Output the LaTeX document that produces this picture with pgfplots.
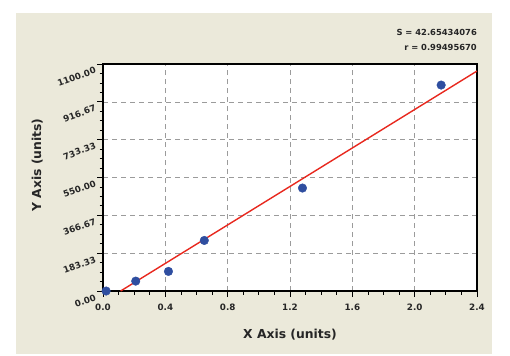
\documentclass[border=0pt]{standalone}
\usepackage{fontspec}
\setmainfont{DejaVu Sans}
\usepackage{pgfplots}
\pgfplotsset{compat=1.18}
\definecolor{beige}{RGB}{235,233,218}
\definecolor{dotblue}{RGB}{47,78,160}
\definecolor{fitred}{RGB}{232,40,30}
\definecolor{gridgray}{RGB}{155,155,155}
\begin{document}
\begin{tikzpicture}[x=1bp,y=1bp]
\fill[white] (0,0) rectangle (510,-355);
\fill[beige] (16,-13) rectangle (492,-354);
\begin{axis}[
  at={(103bp,-291bp)}, anchor=south west,
  scale only axis, width=374bp, height=227bp,
  xmin=0, xmax=2.4, ymin=0, ymax=1100,
  axis background/.style={fill=white},
  axis line style={black, line width=1.1pt},
  xtick={0,0.4,0.8,1.2,1.6,2.0,2.4},
  xticklabels={0.0,0.4,0.8,1.2,1.6,2.0,2.4},
  ytick={0,183.33333,366.66667,550,733.33333,916.66667,1100},
  yticklabels={0.00,183.33,366.67,550.00,733.33,916.67,1100.00},
  minor x tick num=3, minor y tick num=3,
  xtick pos=bottom, ytick pos=left,
  tick align=outside,
  major tick length=6bp, minor tick length=3.5bp,
  tick style={black, line width=0.8pt},
  grid=major,
  major grid style={gridgray, dash pattern=on 5bp off 4bp, line width=0.6pt},
  /pgf/number format/assume math mode=true,
  tick label style={font=\bfseries\fontsize{8.8}{10}\selectfont, text=black!85},
  xticklabel style={yshift=-3bp},
  yticklabel style={rotate=20, anchor=east, yshift=-5bp, xshift=0bp},
  xlabel={X Axis (units)},
  ylabel={Y Axis (units)},
  label style={font=\bfseries\fontsize{12.4}{14}\selectfont, text=black!85},
  xlabel style={at={(axis description cs:0.5,-0.19)}, anchor=center},
  ylabel style={at={(axis description cs:-0.176,0.555)}, anchor=center, rotate=0},
  clip mode=individual,
]
\addplot[fitred, line width=1.4pt] coordinates {(0.113,0) (2.4,1066)};
\addplot[only marks, mark=*, mark size=4.3bp, mark options={fill=dotblue, draw=dotblue}, clip=false]
  coordinates {(0.02,0) (0.21,48) (0.42,95) (0.65,245) (1.28,499) (2.17,998)};
\node[anchor=east, font=\bfseries\fontsize{8.4}{10}\selectfont, text=black!85, inner sep=0pt]
  at (axis description cs:1,1.137) {S = 42.65434076};
\node[anchor=east, font=\bfseries\fontsize{8.4}{10}\selectfont, text=black!85, inner sep=0pt]
  at (axis description cs:1,1.075) {r = 0.99495670};
\end{axis}
\end{tikzpicture}
\end{document}
